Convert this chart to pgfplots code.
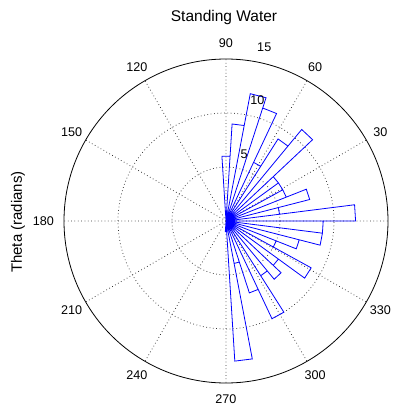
\documentclass[border=0pt]{standalone}
\usepackage{fontspec}
\setmainfont{Liberation Sans}
\usepackage{pgfplots}
\pgfplotsset{compat=1.18}
\usepgfplotslibrary{polar}
\begin{document}
\begin{tikzpicture}
\useasboundingbox (-226pt,-189pt) rectangle (176pt,221pt);
\begin{polaraxis}[
  at={(0pt,0pt)}, anchor=center,
  scale only axis, width=324pt, height=324pt,
  xmin=0, xmax=360, ymin=0, ymax=15,
  xtick={0,30,...,330}, ytick={5,10},
  xticklabels={}, yticklabels={},
  grid=major,
  major grid style={black!80, line width=0.75pt, dash pattern=on 0.75pt off 2.6pt},
  x axis line style={black, line width=0.8pt},
  y axis line style={draw=none},
  major tick length=0pt,
  clip=false,
]
\addplot[blue, line width=0.8pt] coordinates {
(0,0) (0,12) (7.2,12) (0,0)
(7.2,5) (14.4,5) (0,0)
(14.4,8) (21.6,8) (0,0)
(21.6,6) (28.8,6) (0,0)
(28.8,6) (36,6) (0,0)
(36,6) (43.2,6) (0,0)
(43.2,11) (50.4,11) (0,0)
(50.4,9) (57.6,9) (0,0)
(57.6,6) (64.8,6) (0,0)
(64.8,11) (72,11) (0,0)
(72,12) (79.2,12) (0,0)
(79.2,9) (86.4,9) (0,0)
(86.4,6) (93.6,6) (0,0)
(266.4,1) (273.6,1) (0,0)
(273.6,13) (280.8,13) (0,0)
(280.8,4) (288,4) (0,0)
(288,7) (295.2,7) (0,0)
(295.2,10) (302.4,10) (0,0)
(302.4,6) (309.6,6) (0,0)
(309.6,7) (316.8,7) (0,0)
(316.8,6) (324,6) (0,0)
(324,9) (331.2,9) (0,0)
(331.2,5) (338.4,5) (0,0)
(338.4,7) (345.6,7) (0,0)
(345.6,9) (352.8,9) (0,0)
(352.8,9) (360,9) (0,0)
};
\pgfplotsinvokeforeach{30,60,90,120,150,210,240,270,300,330}{
  \node[font=\fontsize{12.6}{15}\selectfont, inner sep=0pt] at (axis cs:#1,16.5) {#1};
}
\node[font=\fontsize{12.6}{15}\selectfont, inner sep=0pt] at (axis cs:0,16.9) {0};
\node[font=\fontsize{12.6}{15}\selectfont, inner sep=0pt] at (axis cs:180,16.9) {180};
\node[font=\fontsize{12.6}{15}\selectfont, inner sep=0pt] at (axis cs:74.7,6.37) {5};
\node[font=\fontsize{12.6}{15}\selectfont, inner sep=0pt] at (axis cs:75.4,11.56) {10};
\node[font=\fontsize{12.6}{15}\selectfont, inner sep=0pt] at (axis cs:77.6,16.5) {15};
\end{polaraxis}
\node[font=\fontsize{15.5}{18}\selectfont] at (-2pt,204pt) {Standing Water};
\node[font=\fontsize{15}{18}\selectfont, rotate=90] at (-208pt,-1pt) {Theta (radians)};
\end{tikzpicture}
\end{document}
